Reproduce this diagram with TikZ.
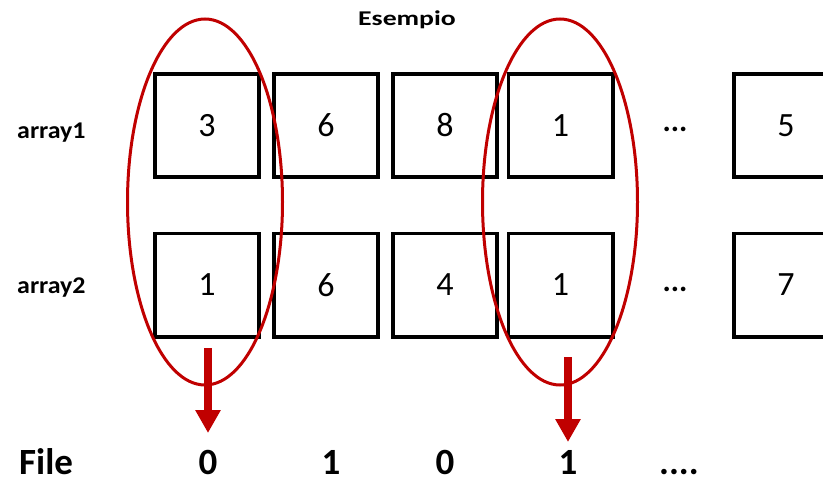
\documentclass[tikz,border=0pt]{standalone}
\usepackage{fontspec}
\setmainfont{Carlito}
\usetikzlibrary{arrows.meta,shapes.geometric}
\definecolor{selred}{HTML}{C00000}
\tikzset{
  cell/.style={draw=black, line width=3.6pt, minimum width=104.4pt, minimum height=103.4pt,
    inner sep=0pt, font=\fontsize{34}{34}\selectfont},
  ring/.style={draw=selred, line width=3pt, ellipse, inner sep=0pt,
    minimum width=155pt, minimum height=366pt},
  pick/.style={draw=selred, line width=8pt, -{Triangle[width=24pt,length=23pt]}},
  rowlabel/.style={anchor=base west, inner sep=0pt, font=\bfseries\fontsize{24}{24}\selectfont},
  gap/.style={anchor=base, inner sep=0pt, font=\bfseries\fontsize{31}{31}\selectfont},
  bit/.style={anchor=base, inner sep=0pt, font=\bfseries\fontsize{37}{37}\selectfont}
}
\begin{document}
\begin{tikzpicture}[x=1pt,y=-1pt]
\useasboundingbox (0,0) rectangle (823,479);
\clip (0,0) rectangle (823,479);

% title
\node[anchor=base, inner sep=0pt, font=\bfseries\fontsize{21}{21}\selectfont]
  (title) at (407,25) {\scalebox{1.32}[1]{Esempio}};

% row labels
\node[rowlabel] (lab1) at (17,138) {\scalebox{1.08}[1]{array1}};
\node[rowlabel] (lab2) at (17,293) {\scalebox{1.08}[1]{array2}};

% first array
\node[cell] (a1) at (207,125.5) {3};
\node[cell] (a2) at (326,125.5) {6};
\node[cell] (a3) at (445,125.5) {8};
\node[cell] (a4) at (560.5,125.5) {1};
\node[gap]  (ad) at (675,131) {...};
\node[cell] (a5) at (786,125.5) {5};

% second array
\node[cell] (b1) at (207,285) {1};
\node[cell] (b2) at (326,285) {6};
\node[cell] (b3) at (445,285) {4};
\node[cell] (b4) at (560.5,285) {1};
\node[gap]  (bd) at (675,291) {...};
\node[cell] (b5) at (786,285) {7};

% highlighted columns
\node[ring] (sel1) at (205,202) {};
\node[ring] (sel2) at (560,202) {};

% output row
\node[anchor=base west, inner sep=0pt, font=\bfseries\fontsize{37}{37}\selectfont]
  (file) at (19,474) {File};
\node[bit] (f1) at (208,474) {0};
\node[bit] (f2) at (331,474) {1};
\node[bit] (f3) at (445,474) {0};
\node[bit] (f4) at (568,474) {1};
\node[bit] (f5) at (679,474) {....};

% arrows from the matching columns
\coordinate (s1) at (208,348);
\coordinate (e1) at (208,433);
\coordinate (s2) at (568,357);
\coordinate (e2) at (568,442);
\draw[pick] (s1) -- (e1);
\draw[pick] (s2) -- (e2);
\end{tikzpicture}
\end{document}
